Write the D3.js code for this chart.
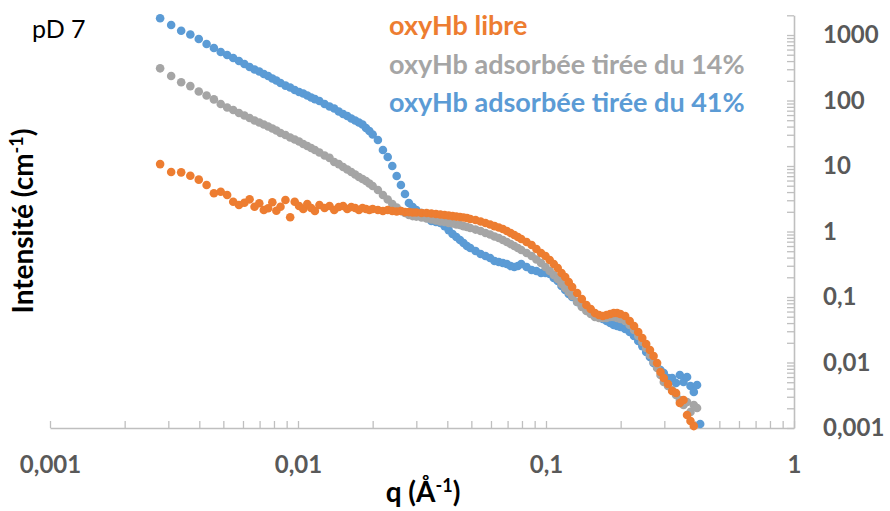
<!DOCTYPE html>
<html>
<head>
<meta charset="utf-8">
<script src="https://cdn.jsdelivr.net/npm/d3@7"></script>
<style>
  html, body { margin: 0; padding: 0; background: #fff; }
  svg { display: block; }
  text { font-family: Lato, "Open Sans", sans-serif; }
</style>
</head>
<body>
<svg id="chart" width="890" height="511"></svg>
<script>
// Scattering vector q (Å-1), shared by the three curves
const q = [
  0.00278, 0.00308, 0.00338, 0.00368, 0.00398, 0.00428, 0.00458, 0.00488, 0.00518, 0.00548,
  0.00578, 0.00608, 0.00638, 0.00668, 0.00698, 0.00728, 0.00758, 0.00788, 0.00818,
  0.0085, 0.0089, 0.0093, 0.0097, 0.0101, 0.0105, 0.0109, 0.0113, 0.0117,
  0.0122, 0.0128, 0.0134, 0.014, 0.0146, 0.0152, 0.0158, 0.0164, 0.017, 0.0176, 0.0182, 0.0188, 0.0194,
  0.02, 0.021, 0.022, 0.023, 0.024, 0.025, 0.026, 0.027, 0.028, 0.029, 0.03,
  0.0315, 0.033, 0.0345, 0.036, 0.0375, 0.039, 0.0405, 0.042, 0.0435, 0.045, 0.0465, 0.048, 0.0495,
  0.052, 0.0545, 0.057, 0.0595, 0.062, 0.0645, 0.067, 0.0695, 0.072, 0.0745, 0.077, 0.0795,
  0.0835, 0.0875, 0.0915, 0.0955, 0.0995, 0.1035, 0.1075, 0.1115, 0.1155, 0.1195, 0.1235, 0.1275,
  0.1335, 0.1395, 0.1455, 0.1515, 0.1575, 0.1635, 0.1695, 0.1755, 0.1815, 0.1875, 0.1935, 0.1995,
  0.2085, 0.2175, 0.2265, 0.2355, 0.2445, 0.2535, 0.2625, 0.2715, 0.2805, 0.2895, 0.2985,
  0.3105, 0.3225, 0.3345, 0.3465, 0.3585, 0.3705, 0.3825, 0.3945, 0.4065, 0.4185
];

// Intensity (cm-1): free oxyHb
const intensityLibre = [
  10.7, 8.1, 8.0, 7.1, 6.19, 5.13, 3.83, 4.05, 3.61, 2.85,
  2.54, 2.75, 3.1, 2.39, 2.7, 2.13, 2.26, 2.79, 2.08,
  2.39, 3.03, 1.65, 2.85, 2.45, 2.21, 2.63, 2.28, 2.06,
  2.54, 2.28, 2.45, 2.13, 2.37, 2.45, 2.21, 2.37, 2.28, 2.13, 2.28, 2.21, 2.13,
  2.21, 2.13, 2.06, 2.13, 2.06, 2.02, 2.06, 1.98, 1.98, 1.95, 1.95,
  1.92, 1.92, 1.88, 1.85, 1.82, 1.79, 1.755, 1.72, 1.69, 1.665, 1.64, 1.61, 1.55,
  1.5, 1.42, 1.35, 1.28, 1.21, 1.15, 1.09, 1.02, 0.949, 0.885, 0.825, 0.769,
  0.692, 0.622, 0.541, 0.47, 0.423, 0.367, 0.319, 0.277, 0.233, 0.202, 0.169, 0.142, 0.115,
  0.0933, 0.0755, 0.0656, 0.057, 0.0531, 0.0513, 0.0531, 0.055, 0.057, 0.057, 0.055, 0.0513,
  0.043, 0.0361, 0.0292, 0.0237, 0.0192, 0.0155, 0.0126, 0.00983, 0.00716, 0.0058, 0.0047,
  0.00367, 0.00342, 0.00241, 0.00268, 0.00158, 0.00128, 0.00107, null, null
];

// Intensity (cm-1): adsorbed oxyHb, pulled at 14%
const intensity14 = [
  310, 237, 190, 166, 137, 119, 104, 88.5, 78.2, 71.6,
  64.5, 59, 54.1, 49.5, 46.2, 43, 40.1, 37.4, 34.8,
  31.9, 29.7, 27.2, 25.4, 23.7, 21.7, 20.2, 18.8, 17.6,
  16.1, 14.5, 13.3, 11.5, 10.7, 9.66, 8.85, 8.1, 7.42, 6.8, 6.33, 5.9, 5.41,
  4.95, 4.3, 3.61, 3.08, 2.63, 2.33, 2.06, 1.92, 1.79, 1.72, 1.69,
  1.64, 1.58, 1.525, 1.47, 1.42, 1.4, 1.35, 1.325, 1.28, 1.26, 1.21, 1.17, 1.13,
  1.07, 1.02, 0.949, 0.9, 0.839, 0.796, 0.742, 0.692, 0.645, 0.601, 0.56, 0.522,
  0.47, 0.423, 0.374, 0.331, 0.287, 0.249, 0.217, 0.188, 0.158, 0.137, 0.119, 0.104,
  0.084, 0.0704, 0.0612, 0.055, 0.0495, 0.0478, 0.0478, 0.0478, 0.0495, 0.0495, 0.0478, 0.0462,
  0.043, 0.0374, 0.0314, 0.0254, 0.0206, 0.0167, 0.013, 0.0102, 0.00825, 0.00645, 0.00504,
  0.00438, 0.0038, 0.00319, 0.00268, 0.00225, 0.00249, 0.00176, 0.00225, 0.00202, null
];

// Intensity (cm-1): adsorbed oxyHb, pulled at 41%
const intensity41 = [
  1800, 1420, 1160, 1020, 869, 729, 633, 550, 495, 446,
  401, 361, 325, 297, 277, 254, 237, 217, 202,
  185, 169, 158, 145, 135, 128, 119, 111, 105,
  98.3, 88.5, 81, 75.5, 68, 62.2, 58, 53.1, 49.5, 46.2, 43, 38, 34.2,
  30.3, 24.9, 17.6, 13.7, 10, 7.04, 5.13, 3.74, 2.72, 2.37, 2.13,
  1.92, 1.61, 1.45, 1.4, 1.35, 1.21, 1.05, 0.916, 0.825, 0.742, 0.668, 0.601, 0.56,
  0.504, 0.454, 0.423, 0.394, 0.355, 0.342, 0.331, 0.319, 0.297, 0.287, 0.297, 0.319,
  0.287, 0.258, 0.249, 0.233, 0.233, 0.225, 0.195, 0.176, 0.147, 0.128, 0.111, 0.1,
  0.084, 0.0729, 0.0656, 0.059, 0.055, 0.0513, 0.0462, 0.043, 0.0401, 0.0374, 0.0361, 0.0348,
  0.0325, 0.0292, 0.0254, 0.0213, 0.0178, 0.0145, 0.0121, 0.00983, 0.00854, 0.00769, 0.00692,
  0.0058, 0.0058, 0.00487, 0.00645, 0.00504, 0.00601, 0.00438, 0.00355, 0.00454, 0.00115
];

const seriesNames = ["oxyHb libre", "oxyHb adsorbée tirée du 14%", "oxyHb adsorbée tirée du 41%"];
const seriesColors = ["#ED7D31", "#A5A5A5", "#5B9BD5"];

const xTickValues = [0.001, 0.01, 0.1, 1];
const xTickLabels = ["0,001", "0,01", "0,1", "1"];
const yTickValues = [0.001, 0.01, 0.1, 1, 10, 100, 1000];
const yTickLabels = ["0,001", "0,01", "0,1", "1", "10", "100", "1000"];

const svg = d3.select("#chart");
const plot = { left: 50, right: 794, top: 15.3, bottom: 428 };

const x = d3.scaleLog().domain([0.001, 1]).range([plot.left, plot.right]);
const y = d3.scaleLog().domain([0.001, 2000]).range([plot.bottom, plot.top]);

const axisColor = "#BFBFBF";
const labelColor = "#595959";
const fontStack = "Lato, 'Open Sans', sans-serif";

// minor ticks: 1..9 × each decade
function decadeTicks(lo, hiExp) {
  const out = [];
  for (let e = Math.log10(lo); e < hiExp; e++) {
    for (let k = 1; k <= 9; k++) out.push(k * Math.pow(10, e));
  }
  return out;
}
const xMinor = decadeTicks(0.001, 0).concat([1]);
const yMinor = decadeTicks(0.001, 3).concat([1000, 2000]);

// X axis: tick marks
const gx = svg.append("g").attr("transform", `translate(0,${plot.bottom})`);
gx.call(d3.axisBottom(x).tickValues(xMinor).tickSize(-7).tickSizeOuter(0).tickFormat(""));
gx.select(".domain").attr("stroke", axisColor).attr("stroke-width", 1.6);
gx.selectAll(".tick line").attr("stroke", axisColor).attr("stroke-width", 1.3);

// X axis: labels
const gxl = svg.append("g").attr("transform", `translate(0,${plot.bottom})`);
gxl.call(d3.axisBottom(x).tickValues(xTickValues).tickSize(0).tickPadding(28)
  .tickFormat((d, i) => xTickLabels[i]));
gxl.select(".domain").remove();
gxl.selectAll(".tick text")
  .attr("fill", labelColor).attr("font-size", 24).attr("font-weight", 700)
  .attr("font-family", fontStack);

// Y axis on the right: tick marks
const gy = svg.append("g").attr("transform", `translate(${plot.right},0)`);
gy.call(d3.axisRight(y).tickValues(yMinor).tickSize(-7).tickSizeOuter(0).tickFormat(""));
gy.select(".domain").attr("stroke", axisColor).attr("stroke-width", 1.6);
gy.selectAll(".tick line").attr("stroke", axisColor).attr("stroke-width", 1.3);

// Y axis: labels
const gyl = svg.append("g").attr("transform", `translate(${plot.right},0)`);
gyl.call(d3.axisRight(y).tickValues(yTickValues).tickSize(0).tickPadding(29)
  .tickFormat((d, i) => yTickLabels[i]));
gyl.select(".domain").remove();
gyl.selectAll(".tick text")
  .attr("fill", labelColor).attr("font-size", 24).attr("font-weight", 700)
  .attr("font-family", fontStack);

// Data points (drawn so the free oxyHb sits on top)
const seriesData = [intensityLibre, intensity14, intensity41];
const drawOrder = [2, 1, 0];
drawOrder.forEach(si => {
  const pts = q.map((qv, i) => ({ q: qv, v: seriesData[si][i] })).filter(d => d.v != null);
  svg.append("g").selectAll("circle").data(pts).join("circle")
    .attr("cx", d => x(d.q))
    .attr("cy", d => y(d.v))
    .attr("r", 4.3)
    .attr("fill", seriesColors[si]);
});

// Legend
const legend = svg.append("g");
seriesNames.forEach((name, i) => {
  legend.append("text")
    .attr("x", 389).attr("y", 35 + i * 38.5)
    .attr("fill", seriesColors[i])
    .attr("font-size", 27).attr("font-weight", 700)
    .text(name);
});

// Sample label
svg.append("text").attr("x", 32).attr("y", 38)
  .attr("font-size", 25).attr("fill", "#000").text("pD 7");

// Axis titles
const yTitle = svg.append("text")
  .attr("transform", "translate(33,221) rotate(-90)")
  .attr("text-anchor", "middle")
  .attr("font-size", 28).attr("font-weight", 700).attr("fill", "#000");
yTitle.append("tspan").text("Intensité (cm");
yTitle.append("tspan").attr("font-size", 18).attr("dy", -10).text("-1");
yTitle.append("tspan").attr("dy", 10).text(")");

const xTitle = svg.append("text")
  .attr("x", 423).attr("y", 502)
  .attr("text-anchor", "middle")
  .attr("font-size", 28).attr("font-weight", 700).attr("fill", "#000");
xTitle.append("tspan").text("q (Å");
xTitle.append("tspan").attr("font-size", 18).attr("dy", -10).text("-1");
xTitle.append("tspan").attr("dy", 10).text(")");
</script>
</body>
</html>
